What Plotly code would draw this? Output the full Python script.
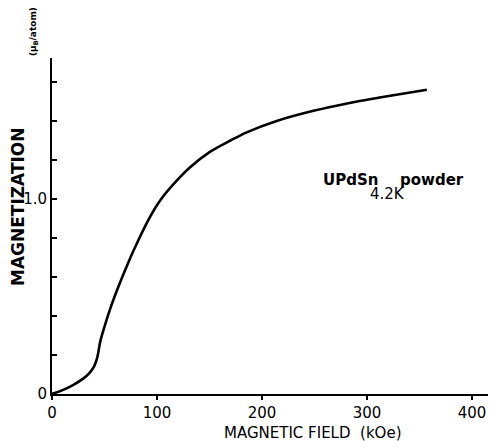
import plotly.graph_objects as go

# Data (field in kOe, magnetization in muB/atom)
field = [0, 10, 20, 30, 36, 40, 43, 46, 50, 55, 62, 70, 78, 93, 104, 119, 131, 150, 170, 186, 214, 249, 281, 312, 357]
magnetization = [0, 0.02, 0.046, 0.08, 0.11, 0.14, 0.185, 0.27, 0.345, 0.43, 0.533, 0.64, 0.74, 0.905, 1.0, 1.095, 1.16, 1.24, 1.30, 1.343, 1.40, 1.452, 1.49, 1.52, 1.56]

x_ticks = [0, 100, 200, 300, 400]
x_ticklabels = ["0", "100", "200", "300", "400"]
y_ticks = [0, 0.2, 0.4, 0.6, 0.8, 1.0, 1.2, 1.4, 1.6]
y_ticklabels = ["0", "", "", "", "", "1.0", "", "", ""]

FONT = "DejaVu Sans, Liberation Sans, sans-serif"

# The page body has an 8px default margin; compensate for it.
OFF = 8
W, H = 496 - OFF, 441 - OFF
L, R, T = 52 - OFF, 3, 58 - OFF
B = H - (394 - OFF)
PW = W - L - R
PH = H - T - B
X_MAX = 420
Y_MAX = 1.723


def px_to_x(px):
    return (px - OFF - L) / PW * X_MAX


def py_to_y(py):
    return (H - B - (py - OFF)) / PH * Y_MAX


def px_to_paper(px):
    return (px - OFF - L) / PW


def py_to_paper(py):
    return (H - B - (py - OFF)) / PH


fig = go.Figure()
fig.add_trace(go.Scatter(
    x=field, y=magnetization, mode="lines",
    line=dict(color="black", width=2.6, shape="spline", smoothing=1.0),
    showlegend=False, hoverinfo="skip",
))

fig.update_layout(
    width=W, height=H,
    margin=dict(l=L, r=R, t=T, b=B, pad=0),
    paper_bgcolor="white", plot_bgcolor="white",
    font=dict(family=FONT, size=15, color="black"),
    xaxis=dict(
        range=[0, X_MAX], tickvals=x_ticks, ticktext=x_ticklabels, automargin=False,
        showgrid=False, zeroline=False, showline=True, linecolor="black", linewidth=2,
        ticks="outside", ticklen=4, tickwidth=1.5, tickcolor="black",
        tickfont=dict(family=FONT, size=15, color="black"),
    ),
    yaxis=dict(
        range=[0, Y_MAX], tickvals=y_ticks, ticktext=y_ticklabels, automargin=False,
        showgrid=False, zeroline=False, showline=True, linecolor="black", linewidth=2,
        ticks="inside", ticklen=5, tickwidth=1.5, tickcolor="black",
        tickfont=dict(family=FONT, size=15, color="black"),
        ticklabelstandoff=0,
    ),
    annotations=[
        dict(text="MAGNETIC FIELD  (kOe)", xref="paper", yref="paper",
             x=px_to_paper(313), y=py_to_paper(433), xanchor="center", yanchor="middle",
             showarrow=False, font=dict(family=FONT, size=15, color="black")),
        dict(text="<b>MAGNETIZATION</b>", textangle=-90, xref="paper", yref="paper",
             x=px_to_paper(18), y=py_to_paper(207), xanchor="center", yanchor="middle",
             showarrow=False, font=dict(family=FONT, size=17, color="black")),
        dict(text="<b>(μ<sub>B</sub>/atom)</b>", textangle=-90, xref="paper", yref="paper",
             x=px_to_paper(33), y=py_to_paper(32), xanchor="center", yanchor="middle",
             showarrow=False, font=dict(family=FONT, size=9, color="black")),
        dict(text="<b>UPdSn</b>", xref="x", yref="y",
             x=px_to_x(350), y=py_to_y(180), showarrow=False,
             font=dict(family=FONT, size=15, color="black")),
        dict(text="<b>powder</b>", xref="x", yref="y",
             x=px_to_x(432), y=py_to_y(180), showarrow=False,
             font=dict(family=FONT, size=15, color="black")),
        dict(text="4.2K", xref="x", yref="y",
             x=px_to_x(387), y=py_to_y(194), showarrow=False,
             font=dict(family=FONT, size=15, color="black")),
    ],
)

fig.write_html("out.html")
